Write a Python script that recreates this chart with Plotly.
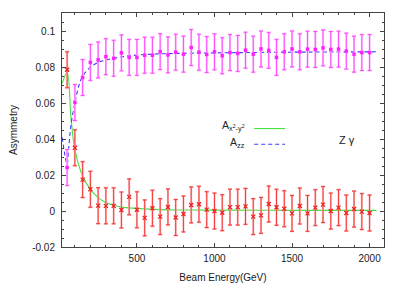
import plotly.graph_objects as go

# ---- data ----
energy = [50, 100, 150, 200, 250, 300, 350, 400, 450, 500, 550, 600, 650, 700, 750,
          800, 850, 900, 950, 1000, 1050, 1100, 1150, 1200, 1250, 1300, 1350, 1400,
          1450, 1500, 1550, 1600, 1650, 1700, 1750, 1800, 1850, 1900, 1950, 2000]

a_x2y2 = [0.0786, 0.0352, 0.0175, 0.0121, 0.0030, 0.0029, 0.0029, 0.0006, 0.0079, 0.0007,
          -0.0038, 0.0016, -0.0031, 0.0023, -0.0036, -0.0016, 0.0034, 0.0038, 0.0008, 0.0000,
          -0.0009, 0.0022, 0.0022, 0.0026, -0.0031, -0.0024, 0.0039, 0.0021, 0.0013, -0.0013,
          0.0028, -0.0013, 0.0019, 0.0036, 0.0000, 0.0019, -0.0011, 0.0011, -0.0003, -0.0011]
a_x2y2_err = [0.010] * 40

a_zz = [0.0242, 0.0604, 0.0743, 0.0827, 0.0841, 0.0859, 0.0850, 0.0880, 0.0855, 0.0855,
        0.0867, 0.0867, 0.0887, 0.0869, 0.0884, 0.0873, 0.0910, 0.0884, 0.0871, 0.0886,
        0.0864, 0.0882, 0.0877, 0.0895, 0.0873, 0.0902, 0.0894, 0.0855, 0.0886, 0.0902,
        0.0886, 0.0901, 0.0899, 0.0908, 0.0899, 0.0901, 0.0890, 0.0873, 0.0882, 0.0882]
a_zz_err = [0.010] * 40

# fit curves
fit_x2y2_e = [18, 50, 75, 100, 150, 200, 250, 300, 350, 400, 500, 650, 800, 1000, 1500, 2045]
fit_x2y2_v = [0.071, 0.077, 0.052, 0.0343, 0.0195, 0.0121, 0.0075, 0.0047, 0.0032, 0.0022,
              0.0015, 0.0008, 0.0006, 0.0005, 0.0004, 0.0004]

fit_zz_e = [18, 50, 60, 75, 100, 125, 150, 200, 250, 300, 400, 500, 700, 1000, 1500, 2045]
fit_zz_v = [0.041, 0.026, 0.035, 0.048, 0.060, 0.0696, 0.075, 0.080, 0.0827, 0.0840, 0.0858,
            0.0868, 0.0876, 0.0880, 0.0884, 0.0886]

xticks = [500, 1000, 1500, 2000]
yticks = [-0.02, 0, 0.02, 0.04, 0.06, 0.08, 0.1]
yticklabels = ["-0.02", "0", "0.02", "0.04", "0.06", "0.08", "0.1"]

FONT = "Liberation Sans, Arial, sans-serif"
AX = "#444444"
TXT = "#222222"

fig = go.Figure()

# fit lines
fig.add_trace(go.Scatter(x=fit_x2y2_e, y=fit_x2y2_v, mode="lines", line_shape="spline",
                         line=dict(color="#44e044", width=1.1), showlegend=False))
fig.add_trace(go.Scatter(x=fit_zz_e, y=fit_zz_v, mode="lines", line_shape="spline",
                         line=dict(color="#3a3aff", width=1.1, dash="4px,3px"), showlegend=False))

# A_zz points: light wide bars + magenta thin bars
fig.add_trace(go.Scatter(x=energy, y=a_zz, mode="markers", marker=dict(size=1, opacity=0),
                         error_y=dict(type="data", array=a_zz_err, color="#ffc0ff",
                                      thickness=2, width=2), showlegend=False))
fig.add_trace(go.Scatter(x=energy, y=a_zz, mode="markers",
                         marker=dict(symbol="square", size=3.5, color="#ff22ff"),
                         error_y=dict(type="data", array=a_zz_err, color="#ff40ff",
                                      thickness=0.9, width=2), showlegend=False))

# A_x2-y2 points
fig.add_trace(go.Scatter(x=energy, y=a_x2y2, mode="markers", marker=dict(size=1, opacity=0),
                         error_y=dict(type="data", array=a_x2y2_err, color="#ffb8b8",
                                      thickness=2, width=2), showlegend=False))
fig.add_trace(go.Scatter(x=energy, y=a_x2y2, mode="markers",
                         marker=dict(symbol="x-thin", size=4, color="#ee2020",
                                     line=dict(width=1.3, color="#ee2020")),
                         error_y=dict(type="data", array=a_x2y2_err, color="#f03030",
                                      thickness=0.9, width=2), showlegend=False))

axis_common = dict(showline=True, linecolor=AX, linewidth=1, mirror="allticks",
                   ticks="inside", tickcolor=AX, showgrid=False, zeroline=False,
                   automargin=False,
                   tickfont=dict(family=FONT, size=10, color=TXT))

fig.update_xaxes(range=[17, 2093], tickvals=xticks, ticklen=4, ticklabelstandoff=2,
                 minor=dict(ticks="inside", dtick=100, tick0=0, ticklen=2, tickcolor=AX),
                 title=dict(text="Beam Energy(GeV)", font=dict(family=FONT, size=10, color=TXT),
                            standoff=10),
                 **axis_common)
fig.update_yaxes(range=[-0.02, 0.1102], tickvals=yticks, ticktext=yticklabels, ticklen=4,
                 ticklabelstandoff=4,
                 minor=dict(ticks="inside", dtick=0.005, tick0=0, ticklen=2, tickcolor=AX),
                 title=dict(text="Asymmetry", font=dict(family=FONT, size=10, color=TXT),
                            standoff=16),
                 **axis_common)

# legend drawn in gnuplot style (text right-aligned, sample to the right)
fig.add_annotation(x=1210, y=0.0474, xref="x", yref="y", xanchor="right", yanchor="middle",
                   text="A<sub>x<sup>2</sup>-y<sup>2</sup></sub>", showarrow=False,
                   font=dict(family=FONT, size=10.5, color=TXT))
fig.add_annotation(x=1210, y=0.0381, xref="x", yref="y", xanchor="right", yanchor="middle",
                   text="A<sub>zz</sub>", showarrow=False,
                   font=dict(family=FONT, size=10.5, color=TXT))
fig.add_shape(type="line", x0=1256, x1=1455, y0=0.0459, y1=0.0459, xref="x", yref="y",
              line=dict(color="#44e044", width=1.1))
fig.add_shape(type="line", x0=1256, x1=1455, y0=0.0372, y1=0.0372, xref="x", yref="y",
              line=dict(color="#3a3aff", width=1.1, dash="4px,3px"))
fig.add_annotation(x=1855, y=0.0394, xref="x", yref="y", xanchor="center", yanchor="middle",
                   text="Z γ", showarrow=False,
                   font=dict(family=FONT, size=11, color=TXT))

# page body has an 8px default margin, so the figure is sized to fit the 405x284 window
fig.update_layout(width=397, height=276, margin=dict(l=54, r=21, t=5, b=37),
                  plot_bgcolor="white", paper_bgcolor="white", showlegend=False)

fig.write_html("out.html")
